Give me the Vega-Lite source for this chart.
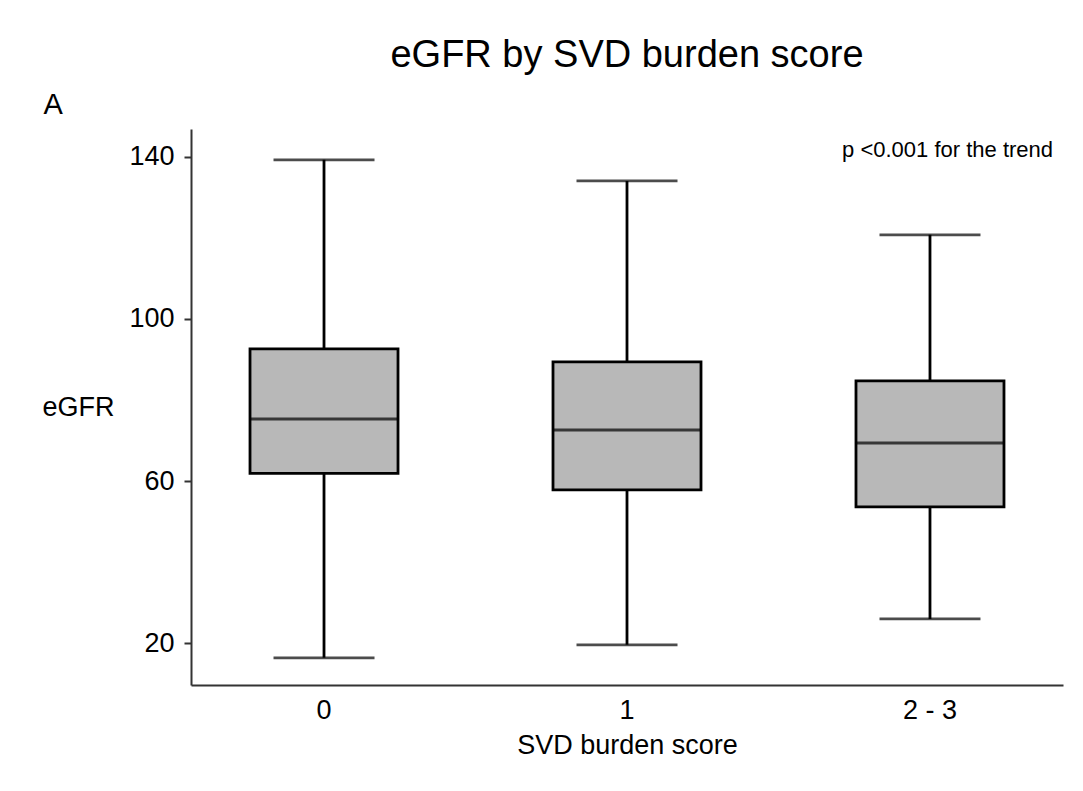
{
  "$schema": "https://vega.github.io/schema/vega-lite/v6.json",
  "width": 872,
  "height": 556,
  "autosize": {"type": "none"},
  "padding": {"left": 191, "top": 129, "right": 20, "bottom": 106},
  "background": "white",
  "title": {
    "text": "eGFR by SVD burden score",
    "anchor": "middle",
    "frame": "group",
    "fontSize": 38,
    "fontWeight": "normal",
    "font": "Liberation Sans",
    "color": "black",
    "baseline": "alphabetic",
    "offset": -15
  },
  "datasets": {
    "boxes": [
      {"score": "0", "lower": 16.4, "q1": 61.9, "median": 75.3, "q3": 92.6, "upper": 139.2},
      {"score": "1", "lower": 19.6, "q1": 57.8, "median": 72.6, "q3": 89.4, "upper": 134.0},
      {"score": "2 - 3", "lower": 26.0, "q1": 53.6, "median": 69.4, "q3": 84.7, "upper": 120.7}
    ],
    "notes": [
      {"score": "2 - 3", "y": 140, "label": "p <0.001 for the trend"}
    ]
  },
  "layer": [
    {
      "data": {"name": "boxes"},
      "encoding": {
        "x": {
          "field": "score",
          "type": "nominal",
          "sort": ["0", "1", "2 - 3"],
          "scale": {"paddingInner": 0.5, "paddingOuter": 0.189},
          "axis": {
            "title": "SVD burden score",
            "labelAngle": 0,
            "ticks": false,
            "tickSize": 0,
            "labelPadding": 12,
            "titlePadding": 9
          }
        }
      },
      "layer": [
        {
          "mark": {"type": "rule", "color": "black", "strokeWidth": 2.8},
          "encoding": {
            "y": {
              "field": "lower",
              "type": "quantitative",
              "scale": {"domain": [9.7, 146.8], "nice": false, "zero": false},
              "axis": {
                "title": "eGFR",
                "values": [20, 60, 100, 140],
                "titleAngle": 0,
                "titleAlign": "left",
                "titleBaseline": "alphabetic",
                "titleX": -149,
                "titleY": 286
              }
            },
            "y2": {"field": "upper"}
          }
        },
        {
          "mark": {"type": "tick", "color": "black", "size": 101, "thickness": 2.8},
          "encoding": {"y": {"field": "upper", "type": "quantitative"}}
        },
        {
          "mark": {"type": "tick", "color": "black", "size": 101, "thickness": 2.8},
          "encoding": {"y": {"field": "lower", "type": "quantitative"}}
        },
        {
          "mark": {"type": "bar", "size": 148, "fill": "#b8b8b8", "stroke": "black", "strokeWidth": 2.8},
          "encoding": {
            "y": {"field": "q1", "type": "quantitative"},
            "y2": {"field": "q3"}
          }
        },
        {
          "mark": {"type": "tick", "color": "black", "size": 150, "thickness": 3},
          "encoding": {"y": {"field": "median", "type": "quantitative"}}
        }
      ]
    },
    {
      "data": {"name": "notes"},
      "mark": {"type": "text", "font": "Liberation Sans", "fontSize": 22, "color": "black", "align": "center", "baseline": "alphabetic"},
      "encoding": {
        "x": {"field": "score", "type": "nominal", "bandPosition": 0.616},
        "y": {
          "field": "y",
          "type": "quantitative",
          "scale": {"domain": [9.7, 146.8], "nice": false, "zero": false},
          "axis": {
            "orient": "right",
            "title": "A",
            "labels": false,
            "ticks": false,
            "domain": false,
            "titleFontSize": 29,
            "titleAngle": 0,
            "titleAlign": "left",
            "titleBaseline": "alphabetic",
            "titleX": -1020,
            "titleY": -16
          }
        },
        "text": {"field": "label"}
      }
    }
  ],
  "resolve": {"scale": {"y": "independent"}, "axis": {"y": "independent"}},
  "config": {
    "font": "Liberation Sans",
    "view": {"stroke": null},
    "axis": {
      "grid": false,
      "domainColor": "#333333",
      "domainWidth": 2,
      "tickColor": "#333333",
      "tickWidth": 2,
      "tickSize": 7,
      "labelPadding": 10,
      "labelColor": "black",
      "titleColor": "black",
      "labelFont": "Liberation Sans",
      "titleFont": "Liberation Sans",
      "labelFontSize": 27,
      "titleFontSize": 27,
      "titleFontWeight": "normal"
    }
  }
}
